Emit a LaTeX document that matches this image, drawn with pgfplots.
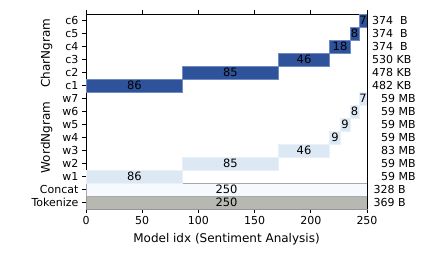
\documentclass[border=0pt]{standalone}
\usepackage{pgfplots}
\pgfplotsset{compat=1.18}
\usepackage{fontspec}
\setmainfont{DejaVu Sans}
\definecolor{cdark}{RGB}{47,83,155}
\definecolor{cdarkedge}{RGB}{110,140,195}
\definecolor{wlight}{RGB}{221,232,245}
\definecolor{wedge}{RGB}{232,240,250}
\definecolor{concatfill}{RGB}{246,250,254}
\definecolor{concatedge}{RGB}{170,170,170}
\definecolor{tokfill}{RGB}{184,184,179}
\definecolor{tokedge}{RGB}{150,150,150}
\newcommand{\tickfont}{\fontsize{11}{13}\selectfont}
\newcommand{\barfont}{\fontsize{11.5}{13.5}\selectfont}
\newcommand{\labfont}{\fontsize{12}{14}\selectfont}
\begin{document}
\begin{tikzpicture}
\useasboundingbox (0,0) rectangle (432pt,259pt);
\begin{axis}[
  at={(86pt,50pt)}, anchor=south west,
  scale only axis, width=281pt, height=195pt,
  xmin=0, xmax=250, ymin=-0.5, ymax=14.5,
  xtick={0,50,100,150,200,250},
  ytick={0,1,2,3,4,5,6,7,8,9,10,11,12,13,14},
  yticklabels={Tokenize,Concat,w1,w2,w3,w4,w5,w6,w7,c1,c2,c3,c4,c5,c6},
  xtick pos=both, xticklabel pos=bottom, ytick pos=left,
  tick align=outside, major tick length=4pt,
  tick style={black, line width=0.9pt},
  axis line style={line width=0.9pt},
  ticklabel style={font=\tickfont},
  label style={font=\labfont},
  /pgf/number format/assume math mode=true,
  xlabel={Model idx (Sentiment Analysis)},
  xlabel style={yshift=-2pt},
  clip=false,
  every axis plot/.append style={line width=0.9pt},
]
% Tokenize / Concat
\addplot[fill=tokfill, draw=tokedge] coordinates {(0,-0.5) (250,-0.5) (250,0.5) (0,0.5)} -- cycle;
\addplot[fill=concatfill, draw=concatedge] coordinates {(0,0.5) (250,0.5) (250,1.5) (0,1.5)} -- cycle;
% WordNgram
\addplot[fill=wlight, draw=wedge] coordinates {(0,1.5) (86,1.5) (86,2.5) (0,2.5)} -- cycle;
\addplot[fill=wlight, draw=wedge] coordinates {(86,2.5) (171,2.5) (171,3.5) (86,3.5)} -- cycle;
\addplot[fill=wlight, draw=wedge] coordinates {(171,3.5) (217,3.5) (217,4.5) (171,4.5)} -- cycle;
\addplot[fill=wlight, draw=wedge] coordinates {(217,4.5) (226,4.5) (226,5.5) (217,5.5)} -- cycle;
\addplot[fill=wlight, draw=wedge] coordinates {(226,5.5) (235,5.5) (235,6.5) (226,6.5)} -- cycle;
\addplot[fill=wlight, draw=wedge] coordinates {(235,6.5) (243,6.5) (243,7.5) (235,7.5)} -- cycle;
\addplot[fill=wlight, draw=wedge] coordinates {(243,7.5) (250,7.5) (250,8.5) (243,8.5)} -- cycle;
% CharNgram
\addplot[fill=cdark, draw=cdarkedge] coordinates {(0,8.5) (86,8.5) (86,9.5) (0,9.5)} -- cycle;
\addplot[fill=cdark, draw=cdarkedge] coordinates {(86,9.5) (171,9.5) (171,10.5) (86,10.5)} -- cycle;
\addplot[fill=cdark, draw=cdarkedge] coordinates {(171,10.5) (217,10.5) (217,11.5) (171,11.5)} -- cycle;
\addplot[fill=cdark, draw=cdarkedge] coordinates {(217,11.5) (235,11.5) (235,12.5) (217,12.5)} -- cycle;
\addplot[fill=cdark, draw=cdarkedge] coordinates {(235,12.5) (243,12.5) (243,13.5) (235,13.5)} -- cycle;
\addplot[fill=cdark, draw=cdarkedge] coordinates {(243,13.5) (250,13.5) (250,14.5) (243,14.5)} -- cycle;
% labels
\addplot[draw=none, mark=none, nodes near coords, point meta=explicit symbolic,
  every node near coord/.style={anchor=center, black, inner sep=0pt, font=\barfont}]
  coordinates {
   (125,0)[250] (125,1)[250]
   (43,2)[86] (128.5,3)[85] (194,4)[46] (221.5,5)[9] (230.5,6)[9] (239,7)[8] (246.5,8)[7]
   (43,9)[86] (128.5,10)[85] (194,11)[46] (226,12)[18] (239,13)[8] (246.5,14)[7]
  };
\node[rotate=90, anchor=center, font=\labfont] at (axis cs:-35,11.5) {CharNgram};
\node[rotate=90, anchor=center, font=\labfont] at (axis cs:-35,5) {WordNgram};
\end{axis}
\begin{axis}[
  at={(86pt,50pt)}, anchor=south west,
  scale only axis, width=281pt, height=195pt,
  xmin=0, xmax=250, ymin=-0.5, ymax=14.5,
  hide x axis,
  axis y line*=right,
  axis line style={line width=0.9pt},
  ytick={0,1,2,3,4,5,6,7,8,9,10,11,12,13,14},
  major tick length=0pt,
  yticklabel style={anchor=west, inner sep=0pt, xshift=5pt, font=\tickfont},
  yticklabels={\hspace{1.5pt}369 B,\hspace{1.5pt}328 B,\hspace{9pt}59 MB,\hspace{9pt}59 MB,\hspace{9pt}83 MB,\hspace{9pt}59 MB,\hspace{9pt}59 MB,\hspace{9pt}59 MB,\hspace{9pt}59 MB,482 KB,478 KB,530 KB,374\ \ B,374\ \ B,374\ \ B},
]
\addplot[draw=none] coordinates {(0,0) (250,14)};
\end{axis}
\end{tikzpicture}
\end{document}
